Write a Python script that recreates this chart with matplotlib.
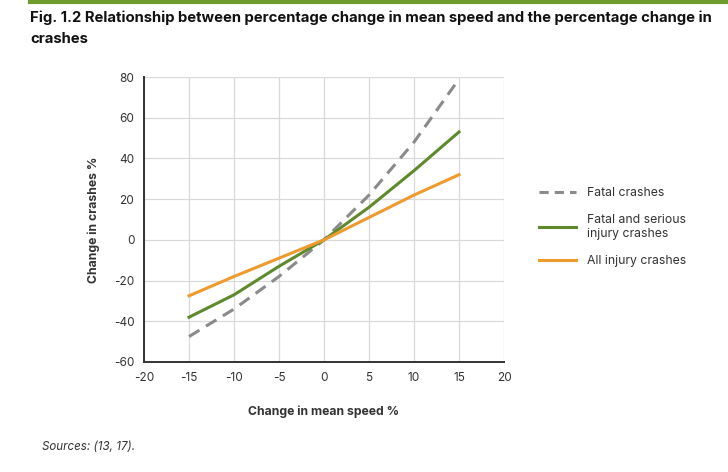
import numpy as np
import matplotlib
matplotlib.use('Agg')
import matplotlib.pyplot as plt
from matplotlib.lines import Line2D

# data
speed_change = [-15, -10, -5, 0, 5, 10, 15]
fatal = [-47.5, -34, -18, 0, 22, 48, 79]
fatal_serious = [-38, -27, -13, 0, 16, 34, 53]
all_injury = [-27.5, -18, -9, 0, 11, 22, 32]

x_ticks = [-20, -15, -10, -5, 0, 5, 10, 15, 20]
y_ticks = [-60, -40, -20, 0, 20, 40, 60, 80]

GREY = '#8a8a8a'
GREEN = '#5f8a2c'
ORANGE = '#ef9a2c'
TXT = '#333333'

plt.rcParams['font.family'] = ['Inter', 'DejaVu Sans']

fig = plt.figure(figsize=(7.28, 4.72), dpi=100)
ax = fig.add_axes([144 / 728, 1 - 362 / 472, 360 / 728, 285 / 472])

ax.plot(speed_change, fatal, color=GREY, lw=2.2, dashes=(4, 2.5), zorder=3)
ax.plot(speed_change, fatal_serious, color=GREEN, lw=2.2, zorder=3)
ax.plot(speed_change, all_injury, color=ORANGE, lw=2.2, zorder=3)

ax.set_xlim(-20, 20)
ax.set_ylim(-60, 80)
ax.set_xticks(x_ticks)
ax.set_yticks(y_ticks)
ax.set_xticklabels([str(v) for v in x_ticks])
ax.set_yticklabels([str(v) for v in y_ticks])
ax.tick_params(length=0, labelsize=8.5, colors=TXT, pad=7)
ax.grid(True, color='#d9d9d9', lw=0.9)
ax.set_axisbelow(True)
for s in ['top', 'right']:
    ax.spines[s].set_visible(False)
for s in ['left', 'bottom']:
    ax.spines[s].set_color('#333333')
    ax.spines[s].set_linewidth(1.4)

ax.set_xlabel('Change in mean speed %', fontsize=8.8, fontweight='bold', color=TXT, labelpad=16)
ax.set_ylabel('Change in crashes %', fontsize=8.8, fontweight='bold', color=TXT, labelpad=10)

handles = [Line2D([], [], color=GREY, lw=2.2, dashes=(3, 2)),
           Line2D([], [], color=GREEN, lw=2.2),
           Line2D([], [], color=ORANGE, lw=2.2)]
labels = ['Fatal crashes', 'Fatal and serious\ninjury crashes', 'All injury crashes']
fig.legend(handles, labels, loc='center left', bbox_to_anchor=(528 / 728, 1 - 227 / 472),
           frameon=False, fontsize=8.8, handlelength=3.0, labelspacing=1.25,
           handletextpad=0.9, labelcolor=TXT)

# top rule and title
fig.add_artist(Line2D([30 / 728, 1], [1 - 1.5 / 472] * 2, color='#6f9a2c', lw=3))
fig.text(30 / 728, 1 - 18 / 472,
         'Fig. 1.2 Relationship between percentage change in mean speed and the percentage change in',
         fontsize=10.7, fontweight='bold', color='#111111', va='center')
fig.text(30 / 728, 1 - 39 / 472, 'crashes', fontsize=10.7, fontweight='bold',
         color='#111111', va='center')

fig.text(42 / 728, 1 - 447 / 472, 'Sources: (13, 17).', fontsize=8.3, style='italic',
         color=TXT, va='center')

fig.savefig('out.png', dpi=100, facecolor='white')
